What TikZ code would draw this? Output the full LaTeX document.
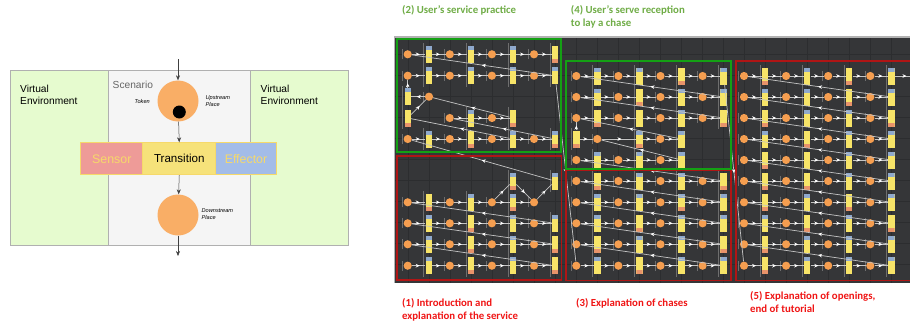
\documentclass[tikz,border=0pt]{standalone}
\usepackage{fontspec}
\setmainfont{Liberation Sans}
\newfontfamily\capfont{Carlito}
\usetikzlibrary{arrows.meta,decorations.markings}
\definecolor{envgreen}{HTML}{E6FBCF}
\definecolor{scen}{HTML}{F5F5F5}
\definecolor{edge}{HTML}{B0B0B0}
\definecolor{orangep}{HTML}{F9AE66}
\definecolor{placeo}{HTML}{F59E50}
\definecolor{sens}{HTML}{EE9B98}
\definecolor{transc}{HTML}{F6E27A}
\definecolor{effc}{HTML}{A3BCE8}
\definecolor{bandy}{HTML}{F6D96A}
\definecolor{panel}{HTML}{353638}
\definecolor{gridc}{HTML}{2C2D2F}
\definecolor{barc}{HTML}{F7E468}
\definecolor{capblue}{HTML}{8FA9CC}
\definecolor{capred}{HTML}{E8936A}
\definecolor{linkc}{HTML}{C4C4C4}
\definecolor{tickc}{HTML}{6E6E6E}
\definecolor{boxg}{HTML}{14A014}
\definecolor{boxr}{HTML}{B01515}
\definecolor{capg}{HTML}{70AD47}
\definecolor{capr}{HTML}{F01515}
\tikzset{
  region/.style={draw=edge,line width=.8pt,inner sep=0pt,anchor=north west},
  bigplace/.style={circle,fill=orangep,minimum size=41pt,inner sep=0pt},
  tokennode/.style={circle,fill=black,minimum size=13pt,inner sep=0pt},
  bandcell/.style={draw=bandy,line width=.9pt,minimum height=32pt,inner sep=0pt,anchor=north west,font=\fontsize{12.4}{14}\selectfont},
  flowarrow/.style={-{Stealth[length=5pt,width=4pt]},line width=.5pt,black!75},
  envtext/.style={anchor=west,align=left,inner sep=0pt,font=\fontsize{10.2}{12.2}\selectfont},
  smalltext/.style={anchor=west,align=left,inner sep=0pt,font=\fontsize{5.6}{7}\selectfont\itshape},
  pl/.style={circle,fill=placeo,minimum size=8.2pt,inner sep=0pt},
  tr/.style={rectangle,fill=barc,minimum width=6.4pt,minimum height=17pt,inner sep=0pt},
  capn/.style={},
  capb/.style={path picture={\fill[capblue] (path picture bounding box.north west) rectangle ([yshift=-4pt]path picture bounding box.north east);}},
  capd/.style={path picture={\fill[capred] (path picture bounding box.south west) rectangle ([yshift=4pt]path picture bounding box.south east);}},
  capbd/.style={path picture={\fill[capblue] (path picture bounding box.north west) rectangle ([yshift=-4pt]path picture bounding box.north east);\fill[capred] (path picture bounding box.south west) rectangle ([yshift=4pt]path picture bounding box.south east);}},
  link/.style={draw=linkc,line width=.7pt,postaction={decorate},decoration={markings,mark=at position .58 with {\arrow[white]{Stealth[length=4pt,width=3.6pt]}}}},
  cross/.style={draw=linkc,line width=.7pt,postaction={decorate},decoration={markings,mark=at position .5 with {\arrow[white]{Stealth[length=4pt,width=3.6pt]}}}},
  tiny/.style={draw=tickc,line width=.6pt},
  gbox/.style={draw=boxg,line width=1.1pt},
  rbox/.style={draw=boxr,line width=1.1pt},
  captext/.style={anchor=west,align=left,inner sep=0pt,font=\capfont\bfseries\fontsize{10.8}{13}\selectfont},
}
\newcommand{\plc}[3]{\node[pl] (#1) at (#2,#3) {};\draw[tiny] ([xshift=-5.5pt,yshift=-5pt]#1.center) -- ([xshift=-5.5pt,yshift=5pt]#1.center);}
\newcommand{\trn}[4]{\node[tr,#4] (#1) at (#2,#3) {};\draw[tiny] ([xshift=-5pt,yshift=-11pt]#1.center) -- ([xshift=-5pt,yshift=11pt]#1.center);}
\newcommand{\flw}[2]{\draw[link] (#1) -- (#2);}
\newcommand{\crs}[2]{\draw[cross] (#1) -- (#2);}
% name, y, x0, caps of the three transitions: P T P T P T
\newcommand{\rowthree}[6]{%
  \plc{#1P1}{#3}{#2}\trn{#1T1}{#3+21.05}{#2}{#4}%
  \plc{#1P2}{#3+42.1}{#2}\trn{#1T2}{#3+63.15}{#2}{#5}%
  \plc{#1P3}{#3+84.2}{#2}\trn{#1T3}{#3+105.25}{#2}{#6}%
  \flw{#1P1}{#1T1}\flw{#1T1}{#1P2}\flw{#1P2}{#1T2}\flw{#1T2}{#1P3}\flw{#1P3}{#1T3}}
% the same, then P T
\newcommand{\rowfull}[7]{%
  \rowthree{#1}{#2}{#3}{#4}{#5}{#6}%
  \plc{#1P4}{#3+126.3}{#2}\trn{#1T4}{#3+147.35}{#2}{#7}%
  \flw{#1T3}{#1P4}\flw{#1P4}{#1T4}}
\begin{document}
\begin{tikzpicture}[x=1pt,y=-1pt]
\useasboundingbox (0,0) rectangle (910,324);
\fill[white] (0,0) rectangle (910,324);
% ---------- left schematic
\node[region,fill=envgreen,minimum width=98.2pt,minimum height=175pt] (envl) at (9.5,70) {};
\node[region,fill=scen,minimum width=142.3pt,minimum height=175pt] (scen) at (107.7,70) {};
\node[region,fill=envgreen,minimum width=98pt,minimum height=175pt] (envr) at (250,70) {};
\node[envtext] (envlt) at (20,95) {Virtual\\Environment};
\node[envtext] (envrt) at (260.5,95) {Virtual\\Environment};
\node[envtext,text=black!60,anchor=west] (scent) at (112.5,85) {Scenario};
\node[bigplace] (up) at (178,101) {};
\node[tokennode] (tok) at (179.3,112) {};
\node[bigplace] (down) at (178,215) {};
\node[bandcell,fill=sens,minimum width=62pt,text=bandy] (sensor) at (80.3,142.3) {Sensor};
\node[bandcell,fill=transc,minimum width=73pt,font=\fontsize{11.6}{14}\selectfont] (trans) at (142.3,142.3) {Transition};
\node[bandcell,fill=effc,minimum width=61.5pt,text=bandy] (effect) at (214.8,142.3) {Effector};
\node[smalltext] (tokt) at (134.5,101) {Token};
\node[smalltext] (upt) at (205.5,101.3) {Upstream\\Place};
\node[smalltext] (downt) at (201.5,214.5) {Downstream\\Place};
\coordinate (topin) at (178,59);
\coordinate (botout) at (178,256);
\draw[flowarrow] (topin) -- (up);
\draw[flowarrow] (up) -- (trans.north);
\draw[flowarrow] (trans.south) -- (down);
\draw[flowarrow] (down) -- (botout);
% ---------- dark panel
\fill[gray!60] (393.5,36) rectangle (910,283);
\fill[panel] (395,38) rectangle (910,283);
\foreach \gx in {408,429,450,471,492,513,534,555,576,597,618,639,660,681,702,723,744,765,786,807,828,849,870,891}
  \draw[gridc,line width=.35pt] (\gx,38) -- (\gx,283);
\foreach \gy in {54,75,96,117,138,159,180,201,222,243,264}
  \draw[gridc,line width=.35pt] (395,\gy) -- (910,\gy);
% ---------- panel (2) and (1)
\rowfull{a}{54.3}{407.7}{capb}{capb}{capb}{capd}
\rowfull{b}{75.7}{407.7}{capb}{capb}{capb}{capb}
\trn{ct}{407.7}{96.7}{capb}\plc{cp}{429}{96.7}
\trn{dt}{407.7}{118}{capd}
\plc{dp1}{449.7}{118}\trn{dt2}{471}{118}{capb}\plc{dp2}{492}{118}\trn{dt3}{513}{118}{capd}
\rowfull{e}{139}{407.7}{capb}{capd}{capb}{capbd}
\flw{cp}{ct}\flw{ct}{bP1}\flw{dt}{cp}\flw{dp1}{dt2}\flw{dt2}{dp2}\flw{dp2}{dt3}
\crs{bT4}{aP1}\crs{dt3}{cp}\crs{eT3}{dt}\crs{eT4}{dp1}
\rowthree{g}{202.3}{407.7}{capd}{capb}{capbd}
\plc{gP4}{534}{202.3}\flw{gT3}{gP4}
\trn{xa}{513}{181}{capbd}\trn{xb}{555}{181}{capb}
\flw{gP3}{xa}\flw{xa}{gP4}\flw{gP4}{xb}
\rowfull{h}{223.3}{407.7}{capb}{capd}{capb}{capb}
\rowfull{i}{244.3}{407.7}{capb}{capd}{capb}{capd}
\rowfull{j}{265.7}{407.7}{capb}{capd}{capb}{capd}
\crs{xb}{eP1}\crs{hT4}{gP1}\crs{iT4}{hP1}\crs{jT4}{iP1}
% ---------- panel (4) and (3)
\rowfull{k}{76}{576.3}{capb}{capb}{capd}{capb}
\rowfull{l}{97}{576.3}{capb}{capd}{capb}{capb}
\rowfull{m}{118}{576.3}{capd}{capn}{capb}{capd}
\trn{nt}{576.3}{139}{capd}
\plc{np1}{597.3}{139}\trn{nt2}{639.3}{139}{capbd}\plc{np2}{660.3}{139}\trn{nt3}{681.3}{139}{capb}
\rowthree{o}{160}{576.3}{capb}{capb}{capb}
\flw{nt}{mP1}\flw{nt}{np1}\flw{np1}{nt2}\flw{nt2}{np2}\flw{np2}{nt3}
\rowfull{q}{181}{576.3}{capd}{capb}{capb}{capd}
\rowfull{r}{202.3}{576.3}{capb}{capb}{capbd}{capb}
\rowfull{s}{223.3}{576.3}{capb}{capd}{capb}{capb}
\rowfull{t}{244.3}{576.3}{capd}{capb}{capb}{capd}
\rowfull{u}{265.7}{576.3}{capb}{capd}{capb}{capb}
\crs{lT4}{kP1}\crs{mT4}{lP1}\crs{nt3}{mP1}\crs{oT3}{np1}\crs{qT4}{oP1}
\crs{rT4}{qP1}\crs{sT4}{rP1}\crs{tT4}{sP1}\crs{uT4}{tP1}
\crs{bT4}{uP1}
% ---------- panel (5)
\rowfull{A}{76}{744}{capd}{capb}{capd}{capb}
\rowfull{B}{97}{744}{capb}{capb}{capd}{capb}
\rowfull{C}{118}{744}{capd}{capb}{capb}{capd}
\rowfull{D}{139}{744}{capb}{capd}{capb}{capb}
\rowfull{E}{160}{744}{capd}{capn}{capb}{capb}
\rowfull{F}{181}{744}{capd}{capd}{capb}{capb}
\rowfull{G}{202.3}{744}{capd}{capb}{capd}{capb}
\rowfull{H}{223.3}{744}{capb}{capd}{capb}{capd}
\rowfull{I}{244.3}{744}{capd}{capb}{capb}{capb}
\rowfull{J}{265.7}{744}{capd}{capb}{capb}{capb}
\crs{BT4}{AP1}\crs{CT4}{BP1}\crs{DT4}{CP1}\crs{ET4}{DP1}\crs{FT4}{EP1}
\crs{GT4}{FP1}\crs{HT4}{GP1}\crs{IT4}{HP1}\crs{JT4}{IP1}
\crs{kT4}{JP1}
\coordinate (offedge) at (915,76);
\draw[link] (AT4) -- (offedge);
% ---------- frames
\draw[gbox] (397,39) rectangle (561,152);
\draw[rbox] (397,156) rectangle (561.5,280);
\draw[rbox] (566,170) rectangle (731,280.5);
\draw[gbox] (566,61) rectangle (731,169);
\draw[rbox] (912,61) -- (736,61) -- (736,280.5) -- (912,280.5);
% ---------- captions
\node[captext,text=capg] (c2) at (402,10) {(2) User’s service practice};
\node[captext,text=capg] (c4) at (570.7,16.5) {(4) User’s serve reception\\to lay a chase};
\node[captext,text=capr] (c1) at (402,309.5) {(1) Introduction and\\explanation of the service};
\node[captext,text=capr] (c3) at (576,303) {(3) Explanation of chases};
\node[captext,text=capr] (c5) at (750,302.5) {(5) Explanation of openings,\\end of tutorial};
\end{tikzpicture}
\end{document}
